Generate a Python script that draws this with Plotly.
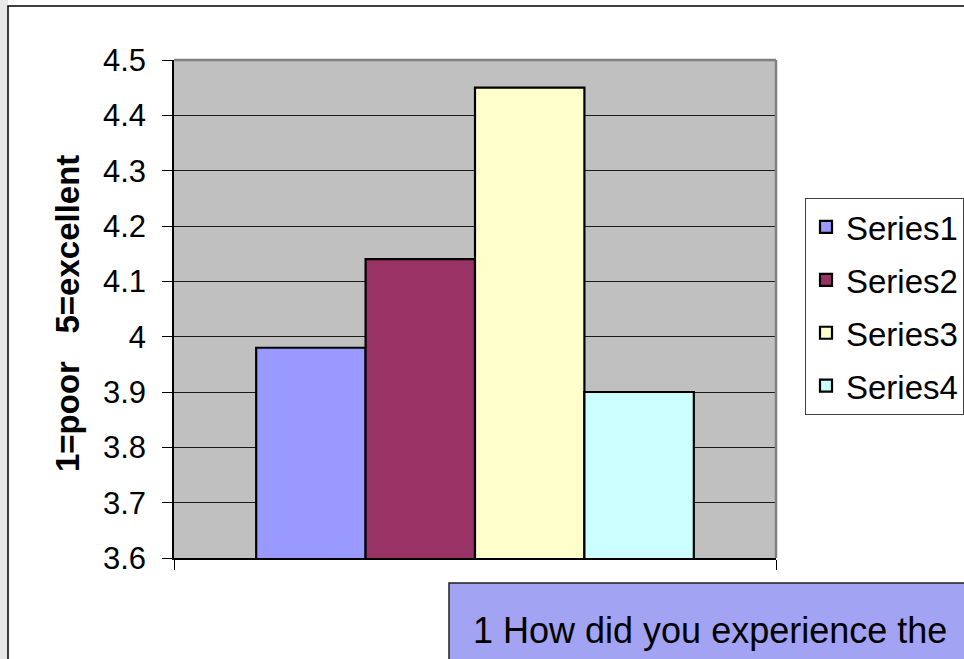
import plotly.graph_objects as go

categories = [""]
series_names = ["Series1", "Series2", "Series3", "Series4"]
series_values = [3.98, 4.14, 4.45, 3.90]
series_colors = ["#9999FF", "#993366", "#FFFFCC", "#CCFFFF"]
tick_vals = [3.6, 3.7, 3.8, 3.9, 4.0, 4.1, 4.2, 4.3, 4.4, 4.5]
tick_text = ["3.6", "3.7", "3.8", "3.9", "4", "4.1", "4.2", "4.3", "4.4", "4.5"]
y_title = "1=poor   5=excellent"
box_text = "1 How did you experience the"

W, H = 964, 659
L, R, T, B = 174, 776, 60, 558
pw, ph = R - L, B - T

def px(x):
    return (x - L) / pw

def py(y):
    return (B - y) / ph

FONT = "Liberation Sans, Arial, sans-serif"

fig = go.Figure()
for name, val, col in zip(series_names, series_values, series_colors):
    fig.add_trace(go.Bar(
        name=name, x=categories, y=[val],
        marker=dict(color=col, line=dict(color="black", width=2.2)),
        legendgroup=name,
    ))

shapes = [
    # left gray strip
    dict(type="rect", xref="paper", yref="paper", x0=px(-5), x1=px(8), y0=py(-5), y1=py(670),
         fillcolor="#E8E8E8", line=dict(width=0), layer="above"),
    # outer frame
    dict(type="rect", xref="paper", yref="paper", x0=px(8), x1=px(990), y0=py(700), y1=py(6),
         fillcolor="rgba(0,0,0,0)", line=dict(color="black", width=1.5), layer="above"),
    # plot area top & right border (gray)
    dict(type="line", xref="paper", yref="paper", x0=0, x1=1, y0=1, y1=1,
         line=dict(color="#808080", width=2.5), layer="above"),
    dict(type="line", xref="paper", yref="paper", x0=1, x1=1, y0=0, y1=1,
         line=dict(color="#808080", width=2.5), layer="above"),
    # bottom text box
    dict(type="rect", xref="paper", yref="paper", x0=px(449), x1=px(1000), y0=py(700), y1=py(583),
         fillcolor="#A3A3F3", line=dict(color="#202020", width=1.5), layer="above"),
]

annotations = [
    dict(text=y_title, xref="paper", yref="paper", x=px(67), y=py(314),
         xanchor="center", yanchor="middle", textangle=-90, showarrow=False,
         font=dict(family=FONT, size=33, color="black", weight="bold")),
    dict(text=box_text, xref="paper", yref="paper", x=px(471), y=py(630),
         xanchor="left", yanchor="middle", showarrow=False,
         font=dict(family=FONT, size=36, color="black")),
]

fig.update_layout(
    width=W, height=H,
    margin=dict(l=L, r=W - R, t=T, b=H - B, autoexpand=False),
    paper_bgcolor="white", plot_bgcolor="#C0C0C0",
    barmode="group", bargap=0.273, bargroupgap=0,
    font=dict(family=FONT, color="black"),
    showlegend=True,
    legend=dict(x=px(805), y=py(198), xanchor="left", yanchor="top",
                bgcolor="white", bordercolor="#404040", borderwidth=1,
                font=dict(family=FONT, size=33, color="black"),
                tracegroupgap=7, traceorder="grouped", itemwidth=30),
    shapes=shapes, annotations=annotations,
    xaxis=dict(type="category", showticklabels=False, showgrid=False,
               showline=True, linecolor="black", linewidth=1.5,
               ticks="outside", tickson="boundaries", ticklen=10, tickcolor="black",
               zeroline=False, fixedrange=True),
    yaxis=dict(range=[3.6, 4.5], tickvals=tick_vals, ticktext=tick_text,
               showgrid=True, gridcolor="#1A1A1A", gridwidth=1,
               showline=True, linecolor="black", linewidth=1.5,
               ticks="outside", ticklen=10, tickcolor="black",
               tickfont=dict(family=FONT, size=31, color="black"),
               ticklabelstandoff=10, zeroline=False, fixedrange=True),
)

fig.write_html("out.html", config={"displayModeBar": False},
               post_script="document.body.style.margin='0';document.body.style.overflow='hidden';")
